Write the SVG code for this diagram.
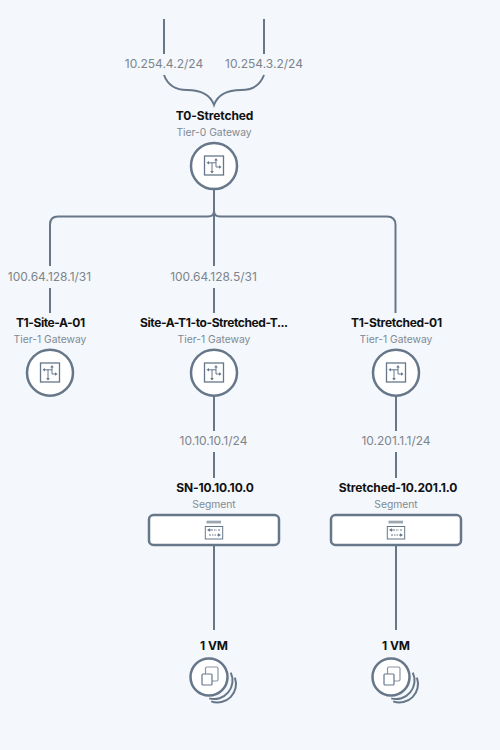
<svg xmlns="http://www.w3.org/2000/svg" width="500" height="750" viewBox="0 0 500 750">
<defs>
<style>
.l{fill:none;stroke:#66778a;stroke-width:2}
.n{fill:#fff;stroke:#66778a;stroke-width:2.5}
.t{font-family:"Inter","Noto Sans",sans-serif;font-size:12px;font-weight:700;fill:#111;text-anchor:middle;letter-spacing:-.1px}
.s{font-family:"Inter","Noto Sans",sans-serif;font-size:10.300px;fill:#7f8a94;text-anchor:middle}
.a{font-family:"Inter","Noto Sans",sans-serif;font-size:12px;fill:#7d858c;text-anchor:middle}
.i{fill:none;stroke:#66778a;stroke-width:1}
</style>
<g id="gw">
<rect x="-9.500" y="-9.500" width="19" height="19" fill="none" stroke="#66778a" stroke-width="1.300"/>
<path class="i" d="M-6-2.700H2M2-6V1.500H6.500M-2-2.700V7"/>
<path d="M-7.500-2.700l2.500-1.800v3.600zM7.500 1.500l-2.500-1.800v3.600zM-2 8l-1.800-2.500h3.600zM2-7.500l-1.800 2.500h3.600z" fill="#66778a"/>
</g>
<g id="seg">
<rect x="-7.500" y="-12.300" width="14.500" height="2.700" fill="#9aa5af"/>
<rect x="-8.700" y="-6.500" width="17.400" height="12.500" fill="none" stroke="#66778a" stroke-width="1"/>
<path class="i" d="M-5-3H-1M-5 2H-3M4-3H6"/>
<path class="i" d="M0-3H3M-2 2H5" stroke-dasharray="1.500 1"/>
<path d="M-7-3l3-1.800v3.600zM7 2l-3-1.800v3.600z" fill="#66778a"/>
</g>
<g id="vm">
<path d="M21.800-4.300A18.500 18.500 0 0 1 .2 21.400M25.900.7A18.500 18.500 0 0 1 2.200 24.400" fill="none" stroke="#66778a" stroke-width="2"/>
<circle r="18.500" class="n"/>
<rect x="-3.500" y="-10" width="12.500" height="14" rx="1.500" fill="none" stroke="#8a96a1" stroke-width="1.200"/>
<rect x="-7" y="-3" width="10" height="11" rx="1" fill="#fff" stroke="#66778a" stroke-width="1.200"/>
</g>
</defs>
<rect width="500" height="750" fill="#f4f7fb"/>
<g id="connectors">
<path class="l" d="M164 19V54M264 19V54M164 75C168 86 176 90 187 90C200 90 210 94 214 105C218 94 228 90 241 90C252 90 260 86 264 75"/>
<path class="l" d="M214 190V211Q214 216.500 208 216.500H58Q50 216.500 50 224.500V266M50 288V313M214 211V266M214 288V313M214 211Q214 216.500 220 216.500H387Q395.500 216.500 395.500 225V313M214 396V431M214 452V478M396 396V431M396 452V478M214 546V630M396 546V630"/>
</g>
<text class="a" x="164" y="68">10.254.4.2/24</text>
<text class="a" x="264" y="68">10.254.3.2/24</text>
<text class="a" x="49.500" y="281">100.64.128.1/31</text>
<text class="a" x="213.500" y="281">100.64.128.5/31</text>
<text class="a" x="213.500" y="445">10.10.10.1/24</text>
<text class="a" x="396" y="445">10.201.1.1/24</text>
<g id="t0"><text class="t" x="214.500" y="120">T0-Stretched</text><text class="s" x="214" y="136">Tier-0 Gateway</text><circle cx="214" cy="166" r="23" class="n"/><use href="#gw" x="214" y="165.500"/></g>
<g id="t1a"><text class="t" x="50.500" y="327" textLength="69">T1-Site-A-01</text><text class="s" x="50" y="343">Tier-1 Gateway</text><circle cx="50" cy="372.700" r="23" class="n"/><use href="#gw" x="50" y="372.500"/></g>
<g id="t1b"><text class="t" x="214" y="327" textLength="148">Site-A-T1-to-Stretched-T...</text><text class="s" x="214" y="343">Tier-1 Gateway</text><circle cx="214" cy="372.700" r="23" class="n"/><use href="#gw" x="214" y="372.500"/></g>
<g id="t1c"><text class="t" x="396.500" y="327" textLength="91">T1-Stretched-01</text><text class="s" x="396" y="343">Tier-1 Gateway</text><circle cx="396" cy="372.700" r="23" class="n"/><use href="#gw" x="396" y="372.500"/></g>
<g id="sn1"><text class="t" x="215" y="492">SN-10.10.10.0</text><text class="s" x="214" y="508">Segment</text><rect x="149" y="515" width="130" height="30" rx="4.500" class="n"/><use href="#seg" x="214" y="533"/></g>
<g id="sn2"><text class="t" x="398" y="492">Stretched-10.201.1.0</text><text class="s" x="396" y="508">Segment</text><rect x="331" y="515" width="130" height="30" rx="4.500" class="n"/><use href="#seg" x="396" y="533"/></g>
<g id="vm1"><text class="t" x="214" y="650">1 VM</text><use href="#vm" x="209" y="677"/></g>
<g id="vm2"><text class="t" x="396" y="650">1 VM</text><use href="#vm" x="391" y="677"/></g>
</svg>
